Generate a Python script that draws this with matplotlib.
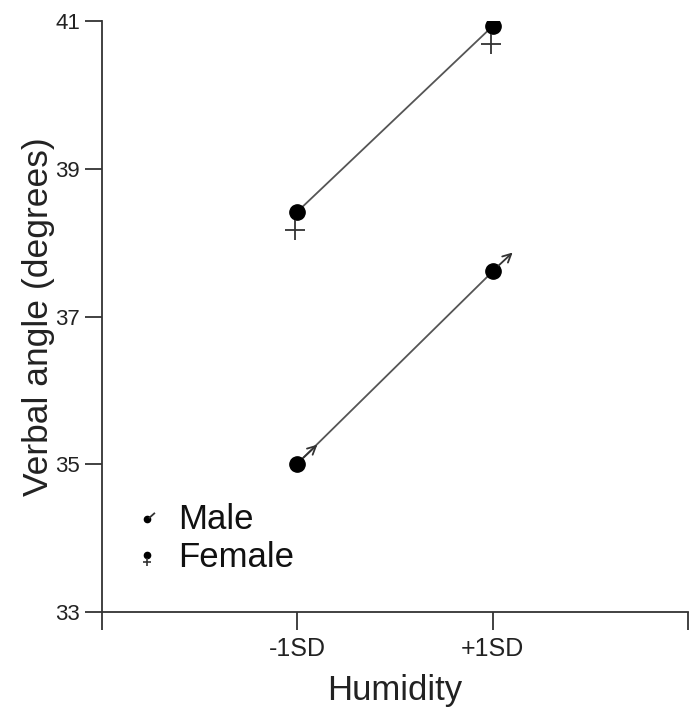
import numpy as np
import matplotlib
matplotlib.use('Agg')
import matplotlib.pyplot as plt
from matplotlib.transforms import offset_copy

# значения
conditions = ['-1SD', '+1SD']
cond_pos = [1, 2]
female = [38.42, 40.93]
male = [35.01, 37.61]
y_ticks = [33, 35, 37, 39, 41]

plt.rcParams['font.family'] = ['Liberation Sans', 'DejaVu Sans']

fig = plt.figure(figsize=(6.9, 7.11), dpi=100)
ax = fig.add_axes([0.148, 0.139, 0.849, 0.8315])

dark = '#333333'
line_c = '#555555'

# линии
ax.plot(cond_pos, female, color=line_c, lw=1.3, zorder=2)
ax.plot(cond_pos, male, color=line_c, lw=1.3, zorder=2)

# кружки
ax.plot(cond_pos, female, 'o', color='black', ms=11, zorder=3)
ax.plot(cond_pos, male, 'o', color='black', ms=11, zorder=3)

# крестики под кружками (символ ♀)
cross_tr = offset_copy(ax.transData, fig=fig, x=-2, y=-18, units='dots')
ax.plot(cond_pos, female, '+', color=dark, ms=14, mew=1.3, transform=cross_tr, zorder=3)

# стрелки (символ ♂)
base_tr = offset_copy(ax.transData, fig=fig, x=6, y=6, units='dots')
tip_tr = offset_copy(ax.transData, fig=fig, x=20, y=19, units='dots')
for xp, yp in zip(cond_pos, male):
    ax.annotate('', xy=(xp, yp), xycoords=tip_tr, xytext=(xp, yp), textcoords=base_tr,
                arrowprops=dict(arrowstyle='->', color=dark, lw=1.3,
                                shrinkA=0, shrinkB=0, mutation_scale=15))

ax.set_xlim(0, 3)
ax.set_ylim(33, 41)
ax.set_xticks([0, 1, 2, 3])
ax.set_xticklabels(['', conditions[0], conditions[1], ''])
ax.set_yticks(y_ticks)

for s in ['top', 'right']:
    ax.spines[s].set_visible(False)
for s in ['left', 'bottom']:
    ax.spines[s].set_color(dark)
    ax.spines[s].set_linewidth(1.3)

ax.tick_params(axis='x', direction='out', length=13, width=1.3, color=dark,
               labelsize=18, labelcolor='#222222', pad=5)
ax.tick_params(axis='y', direction='out', length=12, width=1.3, color=dark,
               labelsize=16, labelcolor='#222222', pad=4)

ax.set_xlabel('Humidity', fontsize=25, color='#222222', labelpad=9)
ax.set_ylabel('Verbal angle (degrees)', fontsize=25.5, color='#222222', labelpad=0)

# легенда: маленькие значки из точки и хвостика
lx, ly_m, ly_f = 0.077, 0.157, 0.093
ax.plot([lx], [ly_m], 'o', color='black', ms=4.5, transform=ax.transAxes, clip_on=False)
ax.plot([lx + 0.004, lx + 0.012], [ly_m + 0.003, ly_m + 0.010], color=dark, lw=1.3,
        transform=ax.transAxes)
ax.plot([lx], [ly_f + 0.004], 'o', color='black', ms=4.5, transform=ax.transAxes)
ax.plot([lx], [ly_f - 0.008], '+', color=dark, ms=6, mew=1.2, transform=ax.transAxes)
ax.text(0.13, ly_m, 'Male', transform=ax.transAxes, fontsize=25, ha='left', va='center',
        color='#111111')
ax.text(0.13, ly_f, 'Female', transform=ax.transAxes, fontsize=25, ha='left', va='center',
        color='#111111')

fig.savefig('out.png', dpi=100, facecolor='white')
